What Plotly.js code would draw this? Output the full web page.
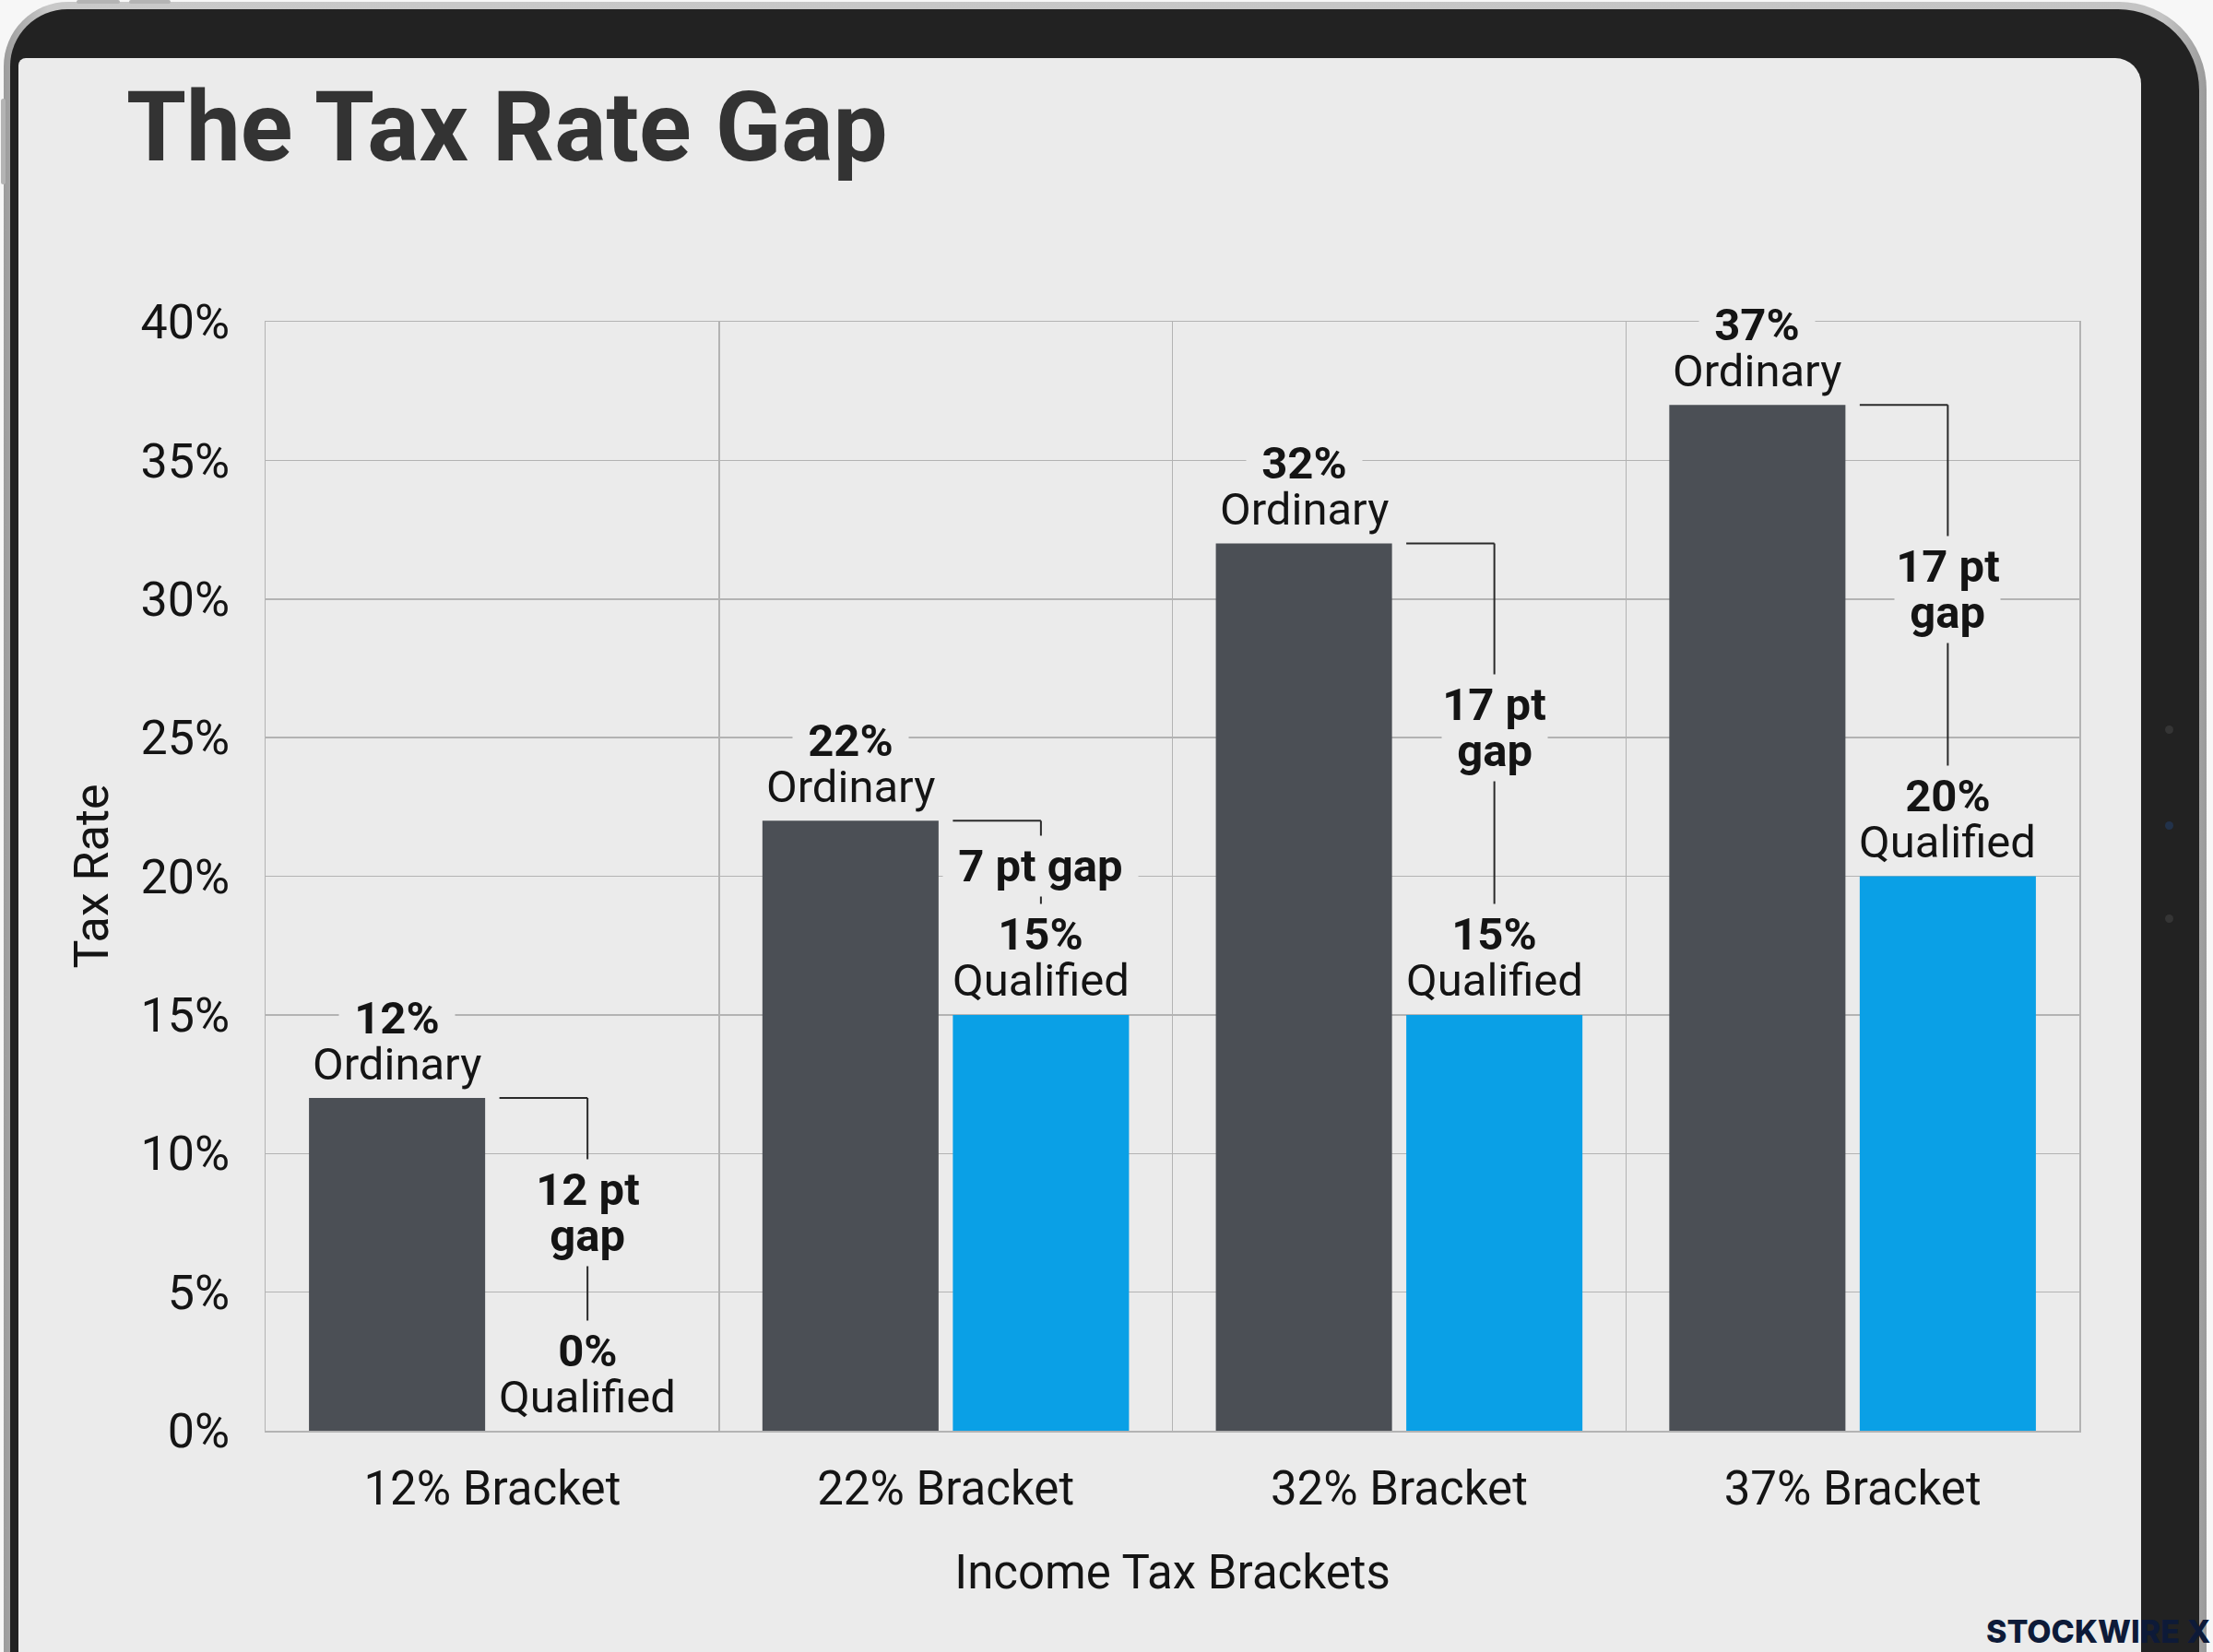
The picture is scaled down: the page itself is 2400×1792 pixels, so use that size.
<!DOCTYPE html>
<html>
<head>
<meta charset="utf-8">
<script src="https://cdn.plot.ly/plotly-3.0.1.min.js"></script>
<style>
  html, body { margin: 0; padding: 0; width: 2400px; height: 1792px; overflow: hidden; background: #f7f7f7; }
  .abs { position: absolute; }
  /* tablet body */
  #edge   { left: 4px;  top: 2px;  width: 2389px; height: 2000px; border-radius: 70px 95px 0 0;
            background: linear-gradient(90deg, #9c9c9c, #c9c9c9 2%, #c4c4c4 98%, #9a9a9a); }
  #bezel  { left: 11px; top: 10px; width: 2374px; height: 2000px; border-radius: 62px 88px 0 0; background: #222222; }
  #screen { left: 20px; top: 63px; width: 2302px; height: 2000px; border-radius: 8px 28px 0 0; background: #ebebeb; }
  .btn    { background: #b4b4b4; border-radius: 3px; }
  .dot    { width: 9px; height: 9px; border-radius: 50%; background: #353535; }
  #chart  { left: 0; top: 0; width: 2400px; height: 1792px; }
</style>
</head>
<body>
<div id="edge" class="abs"></div>
<div class="abs btn" style="left:83px;top:0;width:47px;height:4px;"></div>
<div class="abs btn" style="left:140px;top:0;width:45px;height:4px;"></div>
<div class="abs btn" style="left:1px;top:107px;width:5px;height:93px;"></div>
<div id="bezel" class="abs"></div>
<div id="screen" class="abs"></div>
<div class="abs dot" style="left:2348px;top:787px;"></div>
<div class="abs dot" style="left:2348px;top:891px;background:#22324a;"></div>
<div class="abs dot" style="left:2348px;top:992px;"></div>
<div id="chart" class="abs"></div>
<script>
// ---- data ----
const brackets = ['12% Bracket', '22% Bracket', '32% Bracket', '37% Bracket'];
const ordinaryRates = [12, 22, 32, 37];
const qualifiedRates = [0, 15, 15, 20];
const seriesNames = ['Ordinary', 'Qualified'];
const yTickVals = [0, 5, 10, 15, 20, 25, 30, 35, 40];
const yTickText = yTickVals.map(v => v + '%');

// ---- styling ----
const FONT = 'Roboto, "Liberation Sans", sans-serif';
const SCREEN = '#ebebeb';
const INK = '#141414';
const GRID = '#b3b3b3';
const ORD_COLOR = '#4b4f55';
const QUAL_COLOR = '#0aa0e6';
const W = 2400, H = 1792;
const M = { l: 288, r: 145, t: 349, b: 240 };
const Y_MAX = 40;
const plotH = H - M.t - M.b;
const pxPerPoint = plotH / Y_MAX;

const BARGAP = 0.16, GROUPGAP = 0.075;
const slot = (1 - BARGAP) / 2;
const barHalf = slot * (1 - GROUPGAP) / 2;
const ordOffset = -slot / 2, qualOffset = slot / 2;

const NAME_SHIFT = 37;     // px from bar top to the name line
const VALUE_SHIFT = 87;    // px from bar top to the value line
const GAP_LINE = 25;       // half spacing of two-line gap labels
const GAP_LIFT = 1.85;     // gap label sits this many points above the midpoint

// masked labels break the grid and the connector lines behind them
function label(x, y, text, yshift, bold, masked) {
  return {
    x: x, y: y, xref: 'x', yref: 'y',
    text: masked ? '\u00a0' + text + '\u00a0' : text,
    showarrow: false, xanchor: 'center', yanchor: 'middle', yshift: yshift,
    bgcolor: masked ? SCREEN : 'rgba(0,0,0,0)', borderpad: masked ? 4 : 0,
    font: { family: FONT, size: 49, color: INK, weight: bold ? 700 : 400 }
  };
}

const annotations = [];
const shapes = [];

brackets.forEach((b, i) => {
  const ord = ordinaryRates[i], qual = qualifiedRates[i];

  // bracket connecting the two bar tops
  shapes.push({ type: 'line', xref: 'x', yref: 'y',
    x0: i + qualOffset - barHalf, x1: i + qualOffset, y0: ord, y1: ord,
    line: { color: '#2a2a2a', width: 2 } });
  shapes.push({ type: 'line', xref: 'x', yref: 'y',
    x0: i + qualOffset, x1: i + qualOffset, y0: ord, y1: qual + VALUE_SHIFT / pxPerPoint,
    line: { color: '#2a2a2a', width: 2 } });

  // gap label a little above the midpoint of the two rates
  const gap = ord - qual;
  const gapY = (ord + qual) / 2 + GAP_LIFT;
  const qualLabelTop = qual + (VALUE_SHIFT + 17) / pxPerPoint;
  const roomPx = (ord - qualLabelTop) * pxPerPoint;
  if (roomPx > 150) {
    annotations.push(label(i + qualOffset, gapY, 'gap', -GAP_LINE, true, true));
    annotations.push(label(i + qualOffset, gapY, gap + ' pt', GAP_LINE, true, true));
  } else {
    annotations.push(label(i + qualOffset, gapY, gap + ' pt gap', 0, true, true));
  }

  // value + name above each bar
  annotations.push(label(i + ordOffset, ord, ord + '%', VALUE_SHIFT, true, true));
  annotations.push(label(i + qualOffset, qual, qual + '%', VALUE_SHIFT, true, true));
  annotations.push(label(i + ordOffset, ord, seriesNames[0], NAME_SHIFT, false, false));
  annotations.push(label(i + qualOffset, qual, seriesNames[1], NAME_SHIFT, false, false));
});

// brand mark, bottom right
annotations.push({
  xref: 'paper', yref: 'paper',
  x: (2152 - M.l) / (W - M.l - M.r), y: -(1769 - (H - M.b)) / plotH,
  xanchor: 'left', yanchor: 'middle', showarrow: false,
  text: 'STOCKWIRE X',
  font: { family: 'Inter, ' + FONT, size: 34, color: '#0d1a38', weight: 800 }
});

const traces = [
  { type: 'bar', name: seriesNames[0], x: brackets, y: ordinaryRates,
    marker: { color: ORD_COLOR }, hoverinfo: 'skip' },
  { type: 'bar', name: seriesNames[1], x: brackets, y: qualifiedRates,
    marker: { color: QUAL_COLOR }, hoverinfo: 'skip' }
];

const layout = {
  width: W, height: H,
  margin: M,
  paper_bgcolor: 'rgba(0,0,0,0)',
  plot_bgcolor: 'rgba(0,0,0,0)',
  barmode: 'group', bargap: BARGAP, bargroupgap: GROUPGAP,
  showlegend: false,
  hovermode: false,
  font: { family: FONT, color: INK },
  title: {
    text: 'The Tax Rate Gap',
    font: { family: FONT, size: 105, color: '#333333', weight: 700 },
    xref: 'container', yref: 'container',
    x: 137 / W, xanchor: 'left',
    y: 1 - 137 / H, yanchor: 'middle'
  },
  xaxis: {
    type: 'category',
    tickson: 'boundaries',
    showgrid: true, gridcolor: GRID, gridwidth: 1.5,
    showline: true, linecolor: GRID, linewidth: 1.5, mirror: true,
    ticks: '', ticklabelstandoff: 17,
    tickfont: { family: FONT, size: 51, color: INK },
    title: { text: 'Income Tax Brackets', standoff: 44,
             font: { family: FONT, size: 51, color: INK } }
  },
  yaxis: {
    range: [0, Y_MAX],
    tickvals: yTickVals, ticktext: yTickText,
    showgrid: true, gridcolor: GRID, gridwidth: 1.5,
    zeroline: false,
    showline: true, linecolor: GRID, linewidth: 1.5, mirror: true,
    ticks: '', ticklabelstandoff: 27,
    tickfont: { family: FONT, size: 52, color: INK },
    title: { text: 'Tax Rate', standoff: 18,
             font: { family: FONT, size: 52, color: INK } }
  },
  shapes: shapes,
  annotations: annotations
};

Plotly.newPlot('chart', traces, layout, { staticPlot: true, displayModeBar: false });
</script>
</body>
</html>
